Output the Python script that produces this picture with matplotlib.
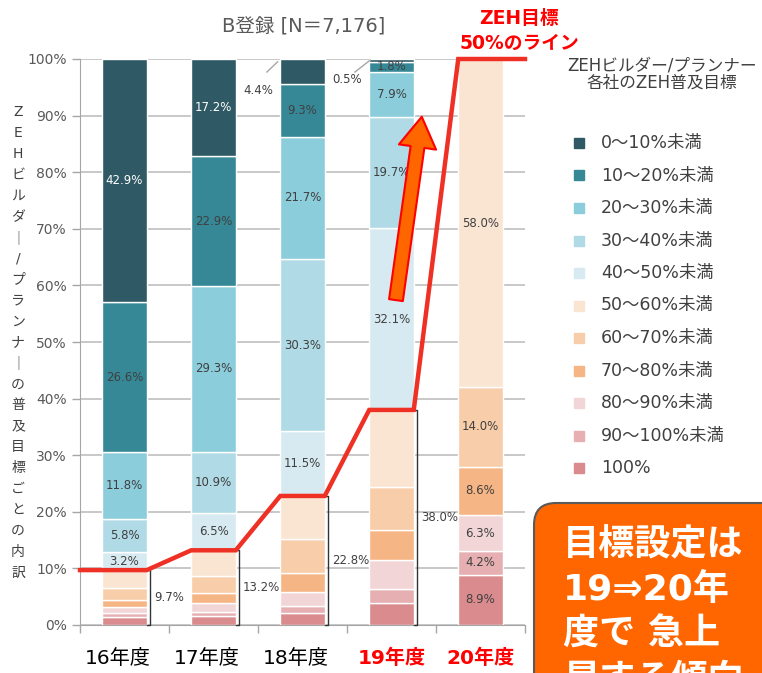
import matplotlib
matplotlib.use("Agg")
import matplotlib.pyplot as plt
from matplotlib.patches import Rectangle, FancyBboxPatch
from matplotlib.transforms import IdentityTransform
import numpy as np

plt.rcParams['font.family'] = ['DejaVu Sans', 'Noto Sans CJK JP']

# data
years = ['16年度', '17年度', '18年度', '19年度', '20年度']
bands = ['0～10%未満', '10～20%未満', '20～30%未満', '30～40%未満', '40～50%未満',
         '50～60%未満', '60～70%未満', '70～80%未満', '80～90%未満', '90～100%未満', '100%']
v_0_10 = [42.9, 17.2, 4.4, 0.5, 0.0]
v_10_20 = [26.6, 22.9, 9.3, 1.8, 0.0]
v_20_30 = [11.8, 29.3, 21.7, 7.9, 0.0]
v_30_40 = [5.8, 10.9, 30.3, 19.7, 0.0]
v_40_50 = [3.2, 6.5, 11.5, 32.1, 0.0]
v_50_60 = [3.1, 4.5, 7.6, 13.7, 58.0]
v_60_70 = [2.1, 3.1, 6.0, 7.5, 14.0]
v_70_80 = [1.3, 1.7, 3.4, 5.3, 8.6]
v_80_90 = [1.0, 1.6, 2.5, 5.1, 6.3]
v_90_100 = [0.8, 0.7, 1.2, 2.5, 4.2]
v_100 = [1.4, 1.6, 2.1, 3.9, 8.9]
colors = ['#2F5964', '#368897', '#8BCDDB', '#B0DAE6', '#D7EAF1',
          '#FAE5D3', '#F8CDA9', '#F6B584', '#F2D5D6', '#E6B0B2', '#D98B8D']

values = [v_0_10, v_10_20, v_20_30, v_30_40, v_40_50,
          v_50_60, v_60_70, v_70_80, v_80_90, v_90_100, v_100]
W, H = 762, 673

def fx(px):
    return px / W

def fy(py):
    return 1 - py / H

fig = plt.figure(figsize=(W / 100, H / 100), dpi=100)
ax = fig.add_axes([fx(80), fy(625), 445 / W, 566 / H])

x = np.arange(len(years))
bw = 0.5
# stack from the bottom: 100% first, 0-10% last
bottom = np.zeros(len(years))
for band, vals, c in reversed(list(zip(bands, values, colors))):
    vals = np.array(vals)
    ax.bar(x, vals, bw, bottom=bottom, color=c, edgecolor='white', linewidth=1, zorder=2)
    bi = bands.index(band)
    for i in range(len(years)):
        if vals[i] <= 0:
            continue
        upper = bi < 5
        if upper and not (bi == 0 and i in (2, 3)):
            tc = 'white' if bi == 0 else '#404040'
            ax.text(x[i], bottom[i] + vals[i] / 2, f'{vals[i]:.1f}%', ha='center', va='center',
                    fontsize=8.5, color=tc, zorder=4)
        if not upper and i == 4:
            ax.text(x[i], bottom[i] + vals[i] / 2, f'{vals[i]:.1f}%', ha='center', va='center',
                    fontsize=8.5, color='#404040', zorder=4)
    bottom += vals

# outside labels with leaders
ax.text(1.5, 94.5, f'{v_0_10[2]:.1f}%', ha='center', va='center', fontsize=8.5, color='#404040')
ax.plot([1.60, 1.72], [97.7, 99.5], color='#A6A6A6', lw=1)
ax.text(2.5, 96.3, f'{v_0_10[3]:.1f}%', ha='center', va='center', fontsize=8.5, color='#404040')
ax.plot([2.59, 2.76], [97.7, 99.8], color='#A6A6A6', lw=1)

# totals of 50% and more
lower = np.sum(values[5:], axis=0)
for i in range(4):
    t = lower[i]
    ax.plot([x[i] + 0.25, x[i] + 0.29, x[i] + 0.29, x[i] + 0.25], [t, t, 0, 0],
            color='#333333', lw=1, zorder=3, clip_on=False)
    ax.text(x[i] + 0.33, t / 2, f'{t:.1f}%', ha='left', va='center', fontsize=8.5,
            color='#404040', zorder=4)

# ZEH 50% line
lx = [-0.5]
ly = [lower[0]]
for i in range(len(years)):
    lx += [x[i] - bw / 2, x[i] + bw / 2]
    ly += [lower[i], lower[i]]
lx.append(4.5)
ly.append(lower[-1])
ax.plot(lx, ly, color='#EE3124', lw=3.2, zorder=5, clip_on=False, solid_joinstyle='miter')

# big arrow
ax.annotate('', xy=(3.34, 89.8), xytext=(3.05, 57.4),
            arrowprops=dict(arrowstyle='simple,head_length=2.2,head_width=2.7,tail_width=1.0',
                            mutation_scale=10, fc='#FF6600', ec='#FF0000', lw=1.5,
                            shrinkA=0, shrinkB=0), zorder=6)

ax.set_xlim(-0.5, 4.5)
ax.set_ylim(0, 100)
ax.set_yticks(range(0, 101, 10))
ax.set_yticklabels([f'{v}%' for v in range(0, 101, 10)], fontsize=10, color='#595959')
ax.set_xticks(np.arange(-0.5, 4.6, 1))
ax.set_xticklabels([])
ax.tick_params(axis='both', color='#A6A6A6', length=6, width=1)
ax.yaxis.grid(True, color='#BFBFBF', lw=1.2)
ax.set_axisbelow(True)
for s in ['top', 'right']:
    ax.spines[s].set_visible(False)
for s in ['left', 'bottom']:
    ax.spines[s].set_color('#A6A6A6')

for i, y in enumerate(years):
    red = i >= 3
    ax.text(x[i] - (0.08 if not red else 0.0), -5.9, y, ha='center', va='center', fontsize=14.5,
            color='#FF0000' if red else 'black', fontweight='bold' if red else 'normal')

# titles
fig.text(fx(304), fy(27), 'B登録 [N＝7,176]', ha='center', va='center', fontsize=14, color='#595959')
fig.text(fx(519), fy(18), 'ZEH目標', ha='center', va='center', fontsize=13.5, color='#FF0000',
         fontweight='bold')
fig.text(fx(519), fy(43), '50%のライン', ha='center', va='center', fontsize=13.5, color='#FF0000',
         fontweight='bold')

# y label, stacked vertically
ylab = ['Z', 'E', 'H', 'ビ', 'ル', 'ダ', '｜', '/', 'プ', 'ラ', 'ン', 'ナ', '｜',
        'の', '普', '及', '目', '標', 'ご', 'と', 'の', '内', '訳']
for k, ch in enumerate(ylab):
    fig.text(fx(18), fy(112 + k * 20.95), ch, ha='center', va='center', fontsize=10, color='#404040')

# legend
fig.text(fx(662), fy(65), 'ZEHビルダー/プランナー', ha='center', va='center', fontsize=12, color='#404040')
fig.text(fx(662), fy(83), '各社のZEH普及目標', ha='center', va='center', fontsize=12, color='#404040')
for k, (band, c) in enumerate(zip(bands, colors)):
    yc = 143 + k * 32.5
    fig.add_artist(Rectangle((fx(574), fy(yc + 5)), 10 / W, 10 / H, transform=fig.transFigure,
                             color=c))
    fig.text(fx(601), fy(yc), band, ha='left', va='center', fontsize=12.5, color='#404040')

# callout box
fig.add_artist(FancyBboxPatch((534, -60), 300, H - 503 + 60, boxstyle='round,pad=0,rounding_size=22',
                              transform=IdentityTransform(), fc='#FF6600', ec='#5A5A5A', lw=1.5))
for k, line in enumerate(['目標設定は', '19⇒20年', '度で 急上', '昇する傾向']):
    fig.text(fx(563), fy(545 + k * 45), line, ha='left', va='center', fontsize=26, color='white',
             fontweight='bold')

fig.savefig('out.png', dpi=100)
